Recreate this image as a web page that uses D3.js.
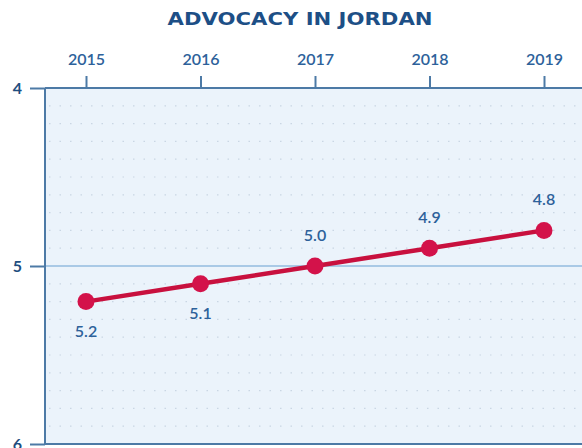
<!DOCTYPE html>
<html><head><meta charset="utf-8">
<script src="https://cdn.jsdelivr.net/npm/d3@7/dist/d3.min.js"></script>
<style>html,body{margin:0;padding:0;background:#fff;overflow:hidden}svg{display:block}</style>
</head><body>
<script>
const years = ["2015","2016","2017","2018","2019"];
const values = [5.2, 5.1, 5.0, 4.9, 4.8];
const labelPos = ["below","below","above","above","above"];
const yTicks = [4, 5, 6];
const title = "ADVOCACY IN JORDAN";

(function(){
const W = 582, H = 448;
const svg = d3.select("body").append("svg").attr("width", W).attr("height", H);
const pLeft = 45, pTop = 88, pBottom = 444, pRight = 600;

const x = d3.scalePoint().domain(years).range([86, 544]);
const y = d3.scaleLinear().domain([4, 6]).range([pTop, pBottom]);

const axisColor = "#4d7aa6", textColor = "#2d619a";
const font = "Lato, 'Open Sans', sans-serif";

svg.append("rect").attr("x", pLeft).attr("y", pTop).attr("width", pRight - pLeft).attr("height", pBottom - pTop).attr("fill", "#ebf3fb");

// dotted grid
const grid = d3.range(4.1, 6, 0.1).filter(v => Math.abs(v - 5) > 0.01);
svg.append("g").selectAll("line").data(grid).join("line")
  .attr("x1", pLeft + 4).attr("x2", pRight).attr("y1", d => y(d)).attr("y2", d => y(d))
  .attr("stroke", "#c9d6e4").attr("stroke-width", 1.2).attr("stroke-dasharray", "1.5,9");

// y=5 line
svg.append("line").attr("x1", pLeft).attr("x2", pRight).attr("y1", y(5)).attr("y2", y(5))
  .attr("stroke", "#a9c9e6").attr("stroke-width", 2);

// top axis
const xAxis = d3.axisTop(x).tickSize(12).tickPadding(11);
const gx = svg.append("g").attr("transform", `translate(0,${pTop})`).call(xAxis);
gx.select(".domain").remove();
gx.append("line").attr("x1", pLeft).attr("x2", pRight).attr("stroke", axisColor).attr("stroke-width", 2);
gx.selectAll(".tick line").attr("stroke", axisColor).attr("stroke-width", 2);
gx.selectAll(".tick text").attr("fill", textColor).attr("font-size", 16).attr("font-family", font).attr("font-weight", 600);

// left axis
const yAxis = d3.axisLeft(y).tickValues(yTicks).tickSize(15).tickPadding(8).tickFormat(d3.format("d"));
const gy = svg.append("g").attr("transform", `translate(${pLeft},0)`).call(yAxis);
gy.select(".domain").attr("stroke", axisColor).attr("stroke-width", 2).attr("d", `M0,${pTop}V${pBottom}`);
gy.selectAll(".tick line").attr("stroke", axisColor).attr("stroke-width", 2);
gy.selectAll(".tick text").attr("fill", "#1f4e80").attr("font-size", 16).attr("font-family", font).attr("font-weight", 700);

// bottom line at 6
svg.append("line").attr("x1", pLeft).attr("x2", pRight).attr("y1", y(6)).attr("y2", y(6))
  .attr("stroke", axisColor).attr("stroke-width", 2);

// line
const data = years.map((yr, i) => ({yr, v: values[i], pos: labelPos[i]}));
svg.append("path").datum(data)
  .attr("d", d3.line().x(d => x(d.yr)).y(d => y(d.v)))
  .attr("fill", "none").attr("stroke", "#c8103e").attr("stroke-width", 4.5);
svg.append("g").selectAll("circle").data(data).join("circle")
  .attr("cx", d => x(d.yr)).attr("cy", d => y(d.v)).attr("r", 8.5).attr("fill", "#d3124a");
svg.append("g").selectAll("text").data(data).join("text")
  .attr("x", d => x(d.yr)).attr("y", d => y(d.v) + (d.pos === "below" ? 35 : -25))
  .attr("text-anchor", "middle").attr("fill", textColor).attr("font-size", 16)
  .attr("font-family", font).attr("font-weight", 600)
  .text(d => d.v.toFixed(1));

// title
svg.append("text").attr("x", 300).attr("y", 25).attr("text-anchor", "middle")
  .attr("fill", "#1d4f86").attr("font-size", 18.5).attr("font-weight", 700)
  .attr("font-family", "'DejaVu Sans', sans-serif").attr("textLength", 265).attr("lengthAdjust", "spacingAndGlyphs").text(title);
})();
</script>
</body></html>
